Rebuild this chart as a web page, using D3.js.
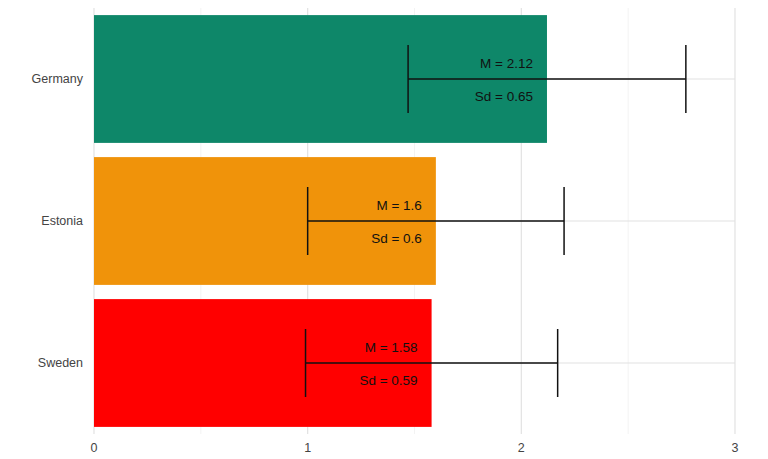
<!DOCTYPE html>
<html><head><meta charset="utf-8">
<script src="https://cdn.jsdelivr.net/npm/d3@7"></script>
<style>body{margin:0;background:#fff}text{font-family:"Liberation Sans",Arial,sans-serif}</style>
</head><body><div id="wrapper"></div>
<script>
const countries = ["Germany", "Estonia", "Sweden"]
const means = [2.12, 1.6, 1.58]
const sds = [0.65, 0.6, 0.59]
const colors = ["#0e8769", "#f0930a", "#ff0000"]
const xTicks = [0, 1, 2, 3]

const dimensions = {width: 768, height: 459, margin: {top: 8, right: 20, bottom: 25, left: 94}}
dimensions.boundedWidth = dimensions.width - dimensions.margin.left - dimensions.margin.right
dimensions.boundedHeight = dimensions.height - dimensions.margin.top - dimensions.margin.bottom

const svg = d3.select("#wrapper").append("svg")
    .attr("width", dimensions.width).attr("height", dimensions.height)
const bounds = svg.append("g")
    .attr("transform", `translate(${dimensions.margin.left},${dimensions.margin.top})`)

const xScale = d3.scaleLinear().domain([0, 3.0]).range([0, 641])
const yScale = d3.scaleBand().domain(countries).range([0, dimensions.boundedHeight]).paddingInner(0.1).paddingOuter(0.05)

// grid
const minor = [0.5, 1.5, 2.5]
bounds.selectAll(".minor").data(minor).join("line")
    .attr("x1", d => xScale(d)).attr("x2", d => xScale(d))
    .attr("y1", 0).attr("y2", dimensions.boundedHeight)
    .attr("stroke", "#f0f0f0").attr("stroke-width", 0.8)
bounds.selectAll(".major").data(xTicks).join("line")
    .attr("x1", d => xScale(d)).attr("x2", d => xScale(d))
    .attr("y1", 0).attr("y2", dimensions.boundedHeight)
    .attr("stroke", "#e2e2e2").attr("stroke-width", 1.2)
bounds.selectAll(".hgrid").data(countries).join("line")
    .attr("x1", 0).attr("x2", 641)
    .attr("y1", d => yScale(d) + yScale.bandwidth() / 2).attr("y2", d => yScale(d) + yScale.bandwidth() / 2)
    .attr("stroke", "#e2e2e2").attr("stroke-width", 1.2)

const data = countries.map((c, i) => ({c, m: means[i], sd: sds[i], col: colors[i]}))

bounds.selectAll(".bar").data(data).join("rect")
    .attr("x", xScale(0)).attr("y", d => yScale(d.c))
    .attr("width", d => xScale(d.m) - xScale(0)).attr("height", yScale.bandwidth())
    .attr("fill", d => d.col)

const err = bounds.selectAll(".err").data(data).join("g")
    .attr("transform", d => `translate(0,${yScale(d.c) + yScale.bandwidth() / 2})`)
err.append("line").attr("x1", d => xScale(d.m - d.sd)).attr("x2", d => xScale(d.m + d.sd))
    .attr("stroke", "#111").attr("stroke-width", 1.5)
err.append("line").attr("x1", d => xScale(d.m - d.sd)).attr("x2", d => xScale(d.m - d.sd))
    .attr("y1", -34).attr("y2", 34).attr("stroke", "#111").attr("stroke-width", 1.5)
err.append("line").attr("x1", d => xScale(d.m + d.sd)).attr("x2", d => xScale(d.m + d.sd))
    .attr("y1", -34).attr("y2", 34).attr("stroke", "#111").attr("stroke-width", 1.5)
err.append("text").attr("x", d => xScale(d.m) - 14).attr("y", -11)
    .attr("text-anchor", "end").attr("font-size", 13.5).attr("fill", "#111")
    .text(d => `M = ${d.m}`)
err.append("text").attr("x", d => xScale(d.m) - 14).attr("y", 22)
    .attr("text-anchor", "end").attr("font-size", 13.5).attr("fill", "#111")
    .text(d => `Sd = ${d.sd}`)

// axes labels
bounds.selectAll(".ylab").data(countries).join("text")
    .attr("x", -11).attr("y", d => yScale(d) + yScale.bandwidth() / 2).attr("dy", "0.35em")
    .attr("text-anchor", "end").attr("font-size", 12.5).attr("fill", "#444").text(d => d)
bounds.selectAll(".xlab").data(xTicks).join("text")
    .attr("x", d => xScale(d)).attr("y", dimensions.boundedHeight + 18)
    .attr("text-anchor", "middle").attr("font-size", 12.5).attr("fill", "#444").text(d => d)
</script></body></html>
